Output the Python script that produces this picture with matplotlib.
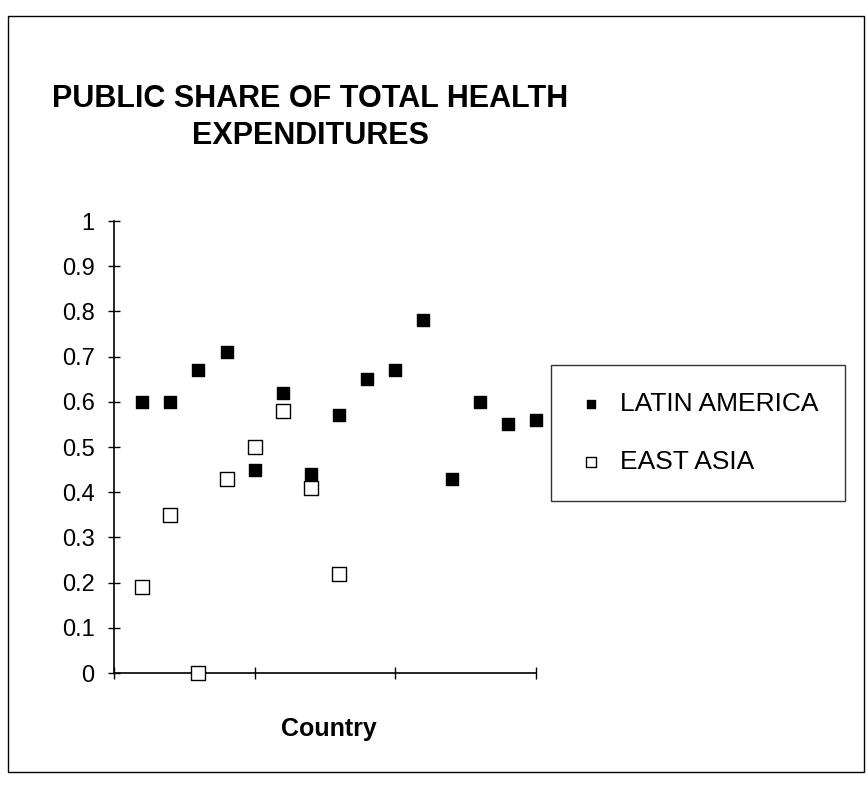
import matplotlib
matplotlib.use('Agg')
import matplotlib.pyplot as plt
from matplotlib.patches import Rectangle

# values
latin_x = [1, 2, 3, 4, 5, 6, 7, 8, 9, 10, 11, 12, 13, 14, 15]
latin_share = [0.60, 0.60, 0.67, 0.71, 0.45, 0.62, 0.44, 0.57, 0.65, 0.67, 0.78, 0.43, 0.60, 0.55, 0.56]
asia_x = [1, 2, 3, 4, 5, 6, 7, 8]
asia_share = [0.19, 0.35, 0.0, 0.43, 0.50, 0.58, 0.41, 0.22]
y_ticks = [0, 0.1, 0.2, 0.3, 0.4, 0.5, 0.6, 0.7, 0.8, 0.9, 1.0]
y_tick_labels = ['0', '0.1', '0.2', '0.3', '0.4', '0.5', '0.6', '0.7', '0.8', '0.9', '1']
x_ticks = [0, 5, 10, 15]

plt.rcParams['font.family'] = ['Liberation Sans', 'DejaVu Sans']

W, H = 868, 785
fig = plt.figure(figsize=(W / 100, H / 100), dpi=100)


def px(x0, y0, x1, y1):
    # pixel box (top-left origin) -> figure fraction [left, bottom, width, height]
    return [x0 / W, 1 - y1 / H, (x1 - x0) / W, (y1 - y0) / H]


# outer frame of the chart
fig.patches.append(Rectangle((8 / W, 1 - 772 / H), 856 / W, 756 / H,
                             transform=fig.transFigure, fill=False,
                             edgecolor='black', linewidth=1.0))

ax = fig.add_axes(px(114, 221, 536, 673))
ax.scatter(latin_x, latin_share, marker='s', s=80, color='black',
           label='LATIN AMERICA', clip_on=False, zorder=3)
ax.scatter(asia_x, asia_share, marker='s', s=95, facecolor='white',
           edgecolor='black', linewidth=1.0, label='EAST ASIA',
           clip_on=False, zorder=4)

ax.set_xlim(0, 15)
ax.set_ylim(0, 1)
ax.set_xticks(x_ticks)
ax.set_xticklabels([])
ax.set_yticks(y_ticks)
ax.set_yticklabels(y_tick_labels, fontsize=17)
ax.tick_params(direction='inout', length=8, width=1, pad=10)
for side in ['top', 'right']:
    ax.spines[side].set_visible(False)
for side in ['left', 'bottom']:
    ax.spines[side].set_linewidth(1.2)

fig.text(310 / W, 1 - 99 / H, 'PUBLIC SHARE OF TOTAL HEALTH',
         ha='center', va='center', fontsize=22, fontweight='bold')
fig.text(310 / W, 1 - 136 / H, 'EXPENDITURES',
         ha='center', va='center', fontsize=22, fontweight='bold')
fig.text(329 / W, 1 - 729 / H, 'Country',
         ha='center', va='center', fontsize=18, fontweight='bold')

leg = ax.legend(loc='center', bbox_to_anchor=(698 / W, 1 - 433 / H),
                bbox_transform=fig.transFigure, fontsize=19,
                frameon=True, fancybox=False, edgecolor='black',
                borderpad=1.0, labelspacing=1.3, handlelength=1.0,
                handletextpad=0.6, markerscale=0.7)
leg.get_frame().set_linewidth(1.0)

fig.savefig('out.png', dpi=100)
